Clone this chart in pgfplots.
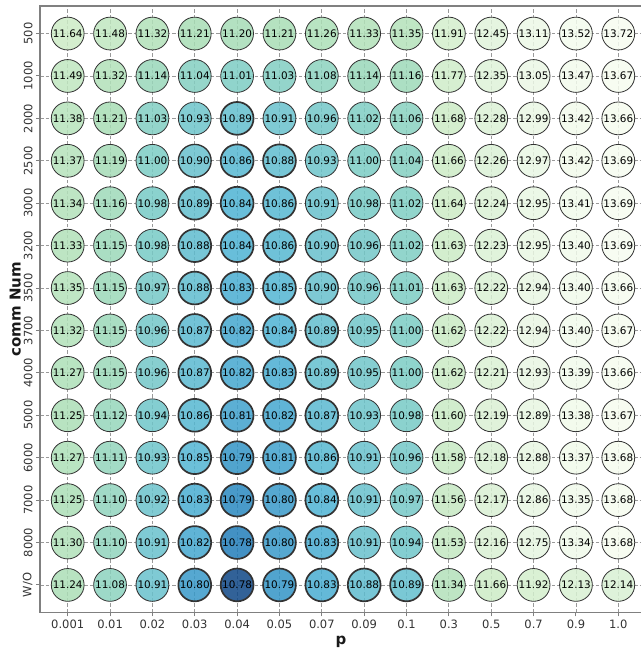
\documentclass[border=0pt]{standalone}
\usepackage{fontspec}
\setmainfont{DejaVu Sans}
\usepackage{pgfplots}
\usepackage{pgfplotstable}
\pgfplotsset{compat=1.18}

% Error for each community number (rows, r = vertical position) and each p (columns c0..c13)
\pgfplotstableread{
r  c0    c1    c2    c3    c4     c5     c6    c7    c8    c9    c10   c11   c12   c13
13 11.64 11.48 11.32 11.21 11.20  11.21  11.26 11.33 11.35 11.91 12.45 13.11 13.52 13.72
12 11.49 11.32 11.14 11.04 11.01  11.03  11.08 11.14 11.16 11.77 12.35 13.05 13.47 13.67
11 11.38 11.21 11.03 10.93 10.89  10.91  10.96 11.02 11.06 11.68 12.28 12.99 13.42 13.66
10 11.37 11.19 11.00 10.90 10.86  10.88  10.93 11.00 11.04 11.66 12.26 12.97 13.42 13.69
9  11.34 11.16 10.98 10.89 10.84  10.86  10.91 10.98 11.02 11.64 12.24 12.95 13.41 13.69
8  11.33 11.15 10.98 10.88 10.84  10.86  10.90 10.96 11.02 11.63 12.23 12.95 13.40 13.69
7  11.35 11.15 10.97 10.88 10.83  10.85  10.90 10.96 11.01 11.63 12.22 12.94 13.40 13.66
6  11.32 11.15 10.96 10.87 10.82  10.84  10.89 10.95 11.00 11.62 12.22 12.94 13.40 13.67
5  11.27 11.15 10.96 10.87 10.82  10.83  10.89 10.95 11.00 11.62 12.21 12.93 13.39 13.66
4  11.25 11.12 10.94 10.86 10.81  10.82  10.87 10.93 10.98 11.60 12.19 12.89 13.38 13.67
3  11.27 11.11 10.93 10.85 10.792 10.81  10.86 10.91 10.96 11.58 12.18 12.88 13.37 13.68
2  11.25 11.10 10.92 10.83 10.787 10.80  10.84 10.91 10.97 11.56 12.17 12.86 13.35 13.68
1  11.30 11.10 10.91 10.82 10.784 10.80  10.83 10.91 10.94 11.53 12.16 12.75 13.34 13.68
0  11.24 11.08 10.91 10.80 10.776 10.792 10.83 10.88 10.89 11.34 11.66 11.92 12.13 12.14
}\errtable

% GnBu-like colour stops; stop k sits at (value - 10.776) x 10 = \gbpos[k]
\definecolor{gb0}{RGB}{14,70,134}
\definecolor{gb1}{RGB}{34,126,186}
\definecolor{gb2}{RGB}{48,146,196}
\definecolor{gb3}{RGB}{63,161,205}
\definecolor{gb4}{RGB}{78,179,211}
\definecolor{gb5}{RGB}{103,192,205}
\definecolor{gb6}{RGB}{123,204,196}
\definecolor{gb7}{RGB}{168,221,181}
\definecolor{gb8}{RGB}{204,235,197}
\definecolor{gb9}{RGB}{224,243,219}
\definecolor{gb10}{RGB}{247,252,240}
\def\gbpos{{0,0.08,0.14,0.34,0.64,1.24,2.24,4.34,8.64,16.74,29.44}}

\begin{document}
\begin{tikzpicture}
\useasboundingbox (0,0) rectangle (641bp,650bp);
\begin{axis}[
  at={(40bp,37.5bp)}, anchor=south west,
  scale only axis, width=601bp, height=606.5bp,
  xmin=-0.654, xmax=13.536,
  ymin=-0.65, ymax=13.65,
  clip=false,
  xtick={0,...,13}, ytick={0,...,13},
  xticklabels={0.001,0.01,0.02,0.03,0.04,0.05,0.07,0.09,0.1,0.3,0.5,0.7,0.9,1.0},
  yticklabels={W/O,8000,7000,6000,5000,4000,3700,3500,3200,3000,2500,2000,1000,500},
  tick pos=left,
  tick align=outside,
  major tick length=4bp,
  tick style={color=black!50, line width=1bp},
  tick label style={font=\fontsize{11.5bp}{13bp}\selectfont, text=black!80},
  yticklabel style={rotate=90, anchor=south},
  axis line style={draw=none},
  grid=major,
  major grid style={color=black!40, line width=0.8bp, dash pattern=on 3.5bp off 2bp},
  xlabel={p}, ylabel={comm Num},
  label style={font=\fontsize{15bp}{18bp}\selectfont\bfseries, text=black!90},
  xlabel style={at={(axis description cs:0.501,-0.053)}, anchor=base},
  ylabel style={at={(axis description cs:-0.041,0.5)}, anchor=center},
]
\pgfplotsinvokeforeach{0,...,13}{
  % circles: colour from the value, thicker edge for the lowest errors
  \addplot[
    scatter, only marks, mark=*, mark size=16.4bp,
    point meta=explicit,
    visualization depends on={\thisrow{c#1} \as \val},
    scatter/@pre marker code/.code={%
      \pgfmathsetmacro\gbd{max(0,(\val-10.776)*10)}%
      \pgfmathtruncatemacro\gbi{(\gbd>0.08)+(\gbd>0.14)+(\gbd>0.34)+(\gbd>0.64)+(\gbd>1.24)+(\gbd>2.24)+(\gbd>4.34)+(\gbd>8.64)+(\gbd>16.74)}%
      \pgfmathtruncatemacro\gbj{\gbi+1}%
      \pgfmathsetmacro\gba{\gbpos[\gbi]}%
      \pgfmathsetmacro\gbb{\gbpos[\gbj]}%
      \pgfmathsetmacro\gbt{min(100,max(0,100*(\gbd-\gba)/(\gbb-\gba)))}%
      \colorlet{cfill}{gb\gbj!\gbt!gb\gbi}%
      \pgfmathsetmacro\edgew{0.8+min(0.9,max(0,(10.912-\val)*45))}%
      \scope[fill=cfill, draw=black!80, line width=\edgew bp, fill opacity=0.85]},
    scatter/@post marker code/.code={\endscope},
  ] table[x expr=#1, y=r, meta=c#1] {\errtable};
  % value labels
  \addplot[
    only marks, mark=none,
    point meta=explicit,
    nodes near coords={\fontsize{10.4bp}{12bp}\selectfont\pgfmathprintnumber[fixed,fixed zerofill,precision=2,assume math mode=true]{\pgfplotspointmeta}},
    nodes near coords align={anchor=center},
    every node near coord/.append style={text=black, inner sep=0pt, anchor=center},
  ] table[x expr=#1, y=r, meta=c#1] {\errtable};
}
% spines: left, bottom and top
\draw[color=black!50, line width=1.5bp]
  (axis description cs:1,1) -- (axis description cs:0,1)
  -- (axis description cs:0,0) -- (axis description cs:1,0);
\end{axis}
\end{tikzpicture}
\end{document}
